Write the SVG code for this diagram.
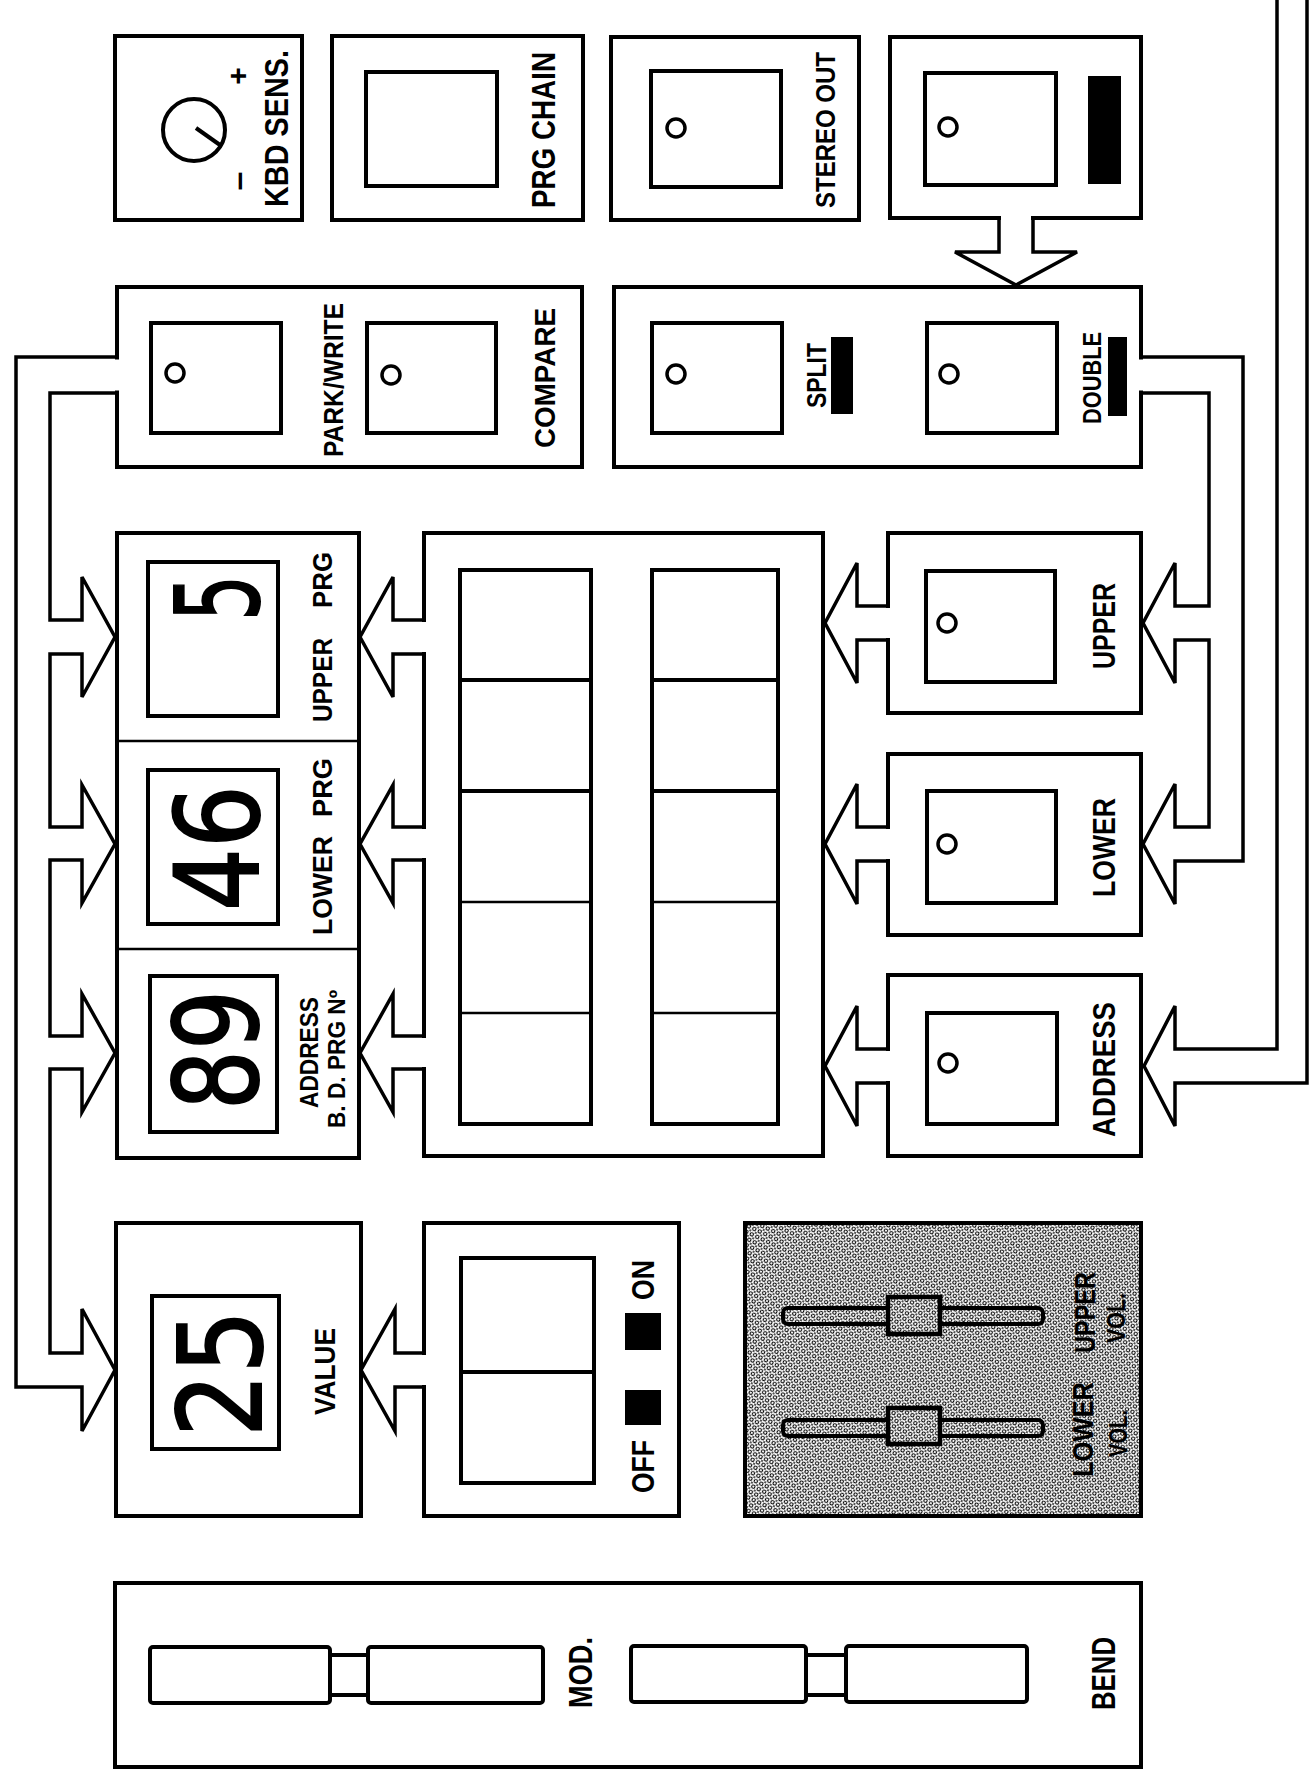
<svg xmlns="http://www.w3.org/2000/svg" width="1309" height="1773" viewBox="0 0 1309 1773">
<style>
.b{fill:#fff;stroke:#000;stroke-width:4}
.i{fill:none;stroke:#000;stroke-width:4}
.t{fill:none;stroke:#000;stroke-width:2.5}
.led{fill:none;stroke:#000;stroke-width:3.5}
.bar{fill:#000}
.lbl{font-family:"Liberation Sans",Arial,sans-serif;font-weight:bold;fill:#000;text-anchor:middle}
.dig{font-family:"DejaVu Sans","Liberation Sans",sans-serif;font-size:116px;fill:#000;stroke:#000;stroke-width:2;text-anchor:middle}
.al{fill:none;stroke:#000;stroke-width:3.5;stroke-linejoin:miter}
.gap{fill:#fff}
</style>
<defs>
<pattern id="dots" width="6" height="6" patternUnits="userSpaceOnUse" patternTransform="rotate(25)">
<rect width="6" height="6" fill="#fff"/>
<circle cx="3" cy="3" r="1.7" fill="none" stroke="#000" stroke-width="1.1"/>
<circle cx="0" cy="0" r="0.9" fill="#000"/>
<circle cx="6" cy="6" r="0.9" fill="#000"/>
<circle cx="0" cy="6" r="0.9" fill="#000"/>
<circle cx="6" cy="0" r="0.9" fill="#000"/>
</pattern>
</defs>
<rect width="1309" height="1773" fill="#fff"/>

<!-- nodes -->
<g id="kbd-sens">
<rect class="b" x="115" y="36" width="187" height="184"/>
<circle class="i" cx="194" cy="130" r="31"/>
<line x1="196" y1="128" x2="220" y2="145" stroke="#000" stroke-width="4"/>
<text class="lbl" font-size="30" transform="translate(248,76) rotate(-90)">+</text>
<text class="lbl" font-size="34" transform="translate(249,181) rotate(-90)">–</text>
<text class="lbl" font-size="34" transform="translate(288,128.5) rotate(-90)" textLength="157" lengthAdjust="spacingAndGlyphs">KBD SENS.</text>
</g>

<g id="prg-chain">
<rect class="b" x="332" y="36" width="251" height="184"/>
<rect class="i" x="366" y="72" width="131" height="114"/>
<text class="lbl" font-size="34" transform="translate(555,130) rotate(-90)" textLength="156" lengthAdjust="spacingAndGlyphs">PRG CHAIN</text>
</g>

<g id="stereo-out">
<rect class="b" x="611" y="37" width="248" height="183"/>
<rect class="i" x="651" y="71" width="130" height="116"/>
<circle class="led" cx="676" cy="128" r="9"/>
<text class="lbl" font-size="28" transform="translate(835,130) rotate(-90)" textLength="156" lengthAdjust="spacingAndGlyphs">STEREO OUT</text>
</g>

<g id="mode-switch">
<rect class="b" x="890" y="37" width="251" height="181"/>
<rect class="i" x="925" y="73" width="131" height="112"/>
<circle class="led" cx="948" cy="127" r="9"/>
<rect class="bar" x="1088" y="76" width="33" height="108"/>
</g>

<g id="park-compare">
<rect class="b" x="117" y="287" width="465" height="180"/>
<rect class="i" x="151" y="323" width="130" height="110"/>
<circle class="led" cx="175" cy="373" r="9"/>
<text class="lbl" font-size="28" transform="translate(343,380) rotate(-90)" textLength="154" lengthAdjust="spacingAndGlyphs">PARK/WRITE</text>
<rect class="i" x="367" y="323" width="129" height="110"/>
<circle class="led" cx="391" cy="375" r="9"/>
<text class="lbl" font-size="30" transform="translate(555,378) rotate(-90)" textLength="140" lengthAdjust="spacingAndGlyphs">COMPARE</text>
</g>

<g id="split-double">
<rect class="b" x="614" y="287" width="527" height="180"/>
<rect class="i" x="652" y="323" width="130" height="110"/>
<circle class="led" cx="676" cy="374" r="9"/>
<text class="lbl" font-size="28" transform="translate(826,375.5) rotate(-90)" textLength="65" lengthAdjust="spacingAndGlyphs">SPLIT</text>
<rect class="bar" x="831" y="337" width="22" height="77"/>
<rect class="i" x="927" y="323" width="130" height="110"/>
<circle class="led" cx="949" cy="374" r="9"/>
<text class="lbl" font-size="26" transform="translate(1101,378) rotate(-90)" textLength="92" lengthAdjust="spacingAndGlyphs">DOUBLE</text>
<rect class="bar" x="1108" y="337" width="19" height="79"/>
</g>

<g id="displays">
<rect class="b" x="117" y="533" width="242" height="625"/>
<line class="t" x1="117" y1="741" x2="359" y2="741"/>
<line class="t" x1="117" y1="949" x2="359" y2="949"/>
<rect class="i" x="148" y="562" width="130" height="154"/>
<text class="dig" transform="translate(258,598) rotate(-90)" textLength="46" lengthAdjust="spacingAndGlyphs">5</text>
<text class="lbl" font-size="28" transform="translate(332,680) rotate(-90)" textLength="84" lengthAdjust="spacingAndGlyphs">UPPER</text>
<text class="lbl" font-size="28" transform="translate(332,580) rotate(-90)" textLength="56" lengthAdjust="spacingAndGlyphs">PRG</text>
<rect class="i" x="148" y="770" width="130" height="154"/>
<text class="dig" transform="translate(258,848) rotate(-90)" textLength="126" lengthAdjust="spacingAndGlyphs">46</text>
<text class="lbl" font-size="28" transform="translate(332,885.5) rotate(-90)" textLength="99" lengthAdjust="spacingAndGlyphs">LOWER</text>
<text class="lbl" font-size="28" transform="translate(332,787.5) rotate(-90)" textLength="59" lengthAdjust="spacingAndGlyphs">PRG</text>
<rect class="i" x="150" y="976" width="127" height="156"/>
<text class="dig" transform="translate(257,1050) rotate(-90)" textLength="120" lengthAdjust="spacingAndGlyphs">89</text>
<text class="lbl" font-size="25" transform="translate(318,1052.5) rotate(-90)" textLength="111" lengthAdjust="spacingAndGlyphs">ADDRESS</text>
<text class="lbl" font-size="23" transform="translate(345,1059) rotate(-90)" textLength="138" lengthAdjust="spacingAndGlyphs">B. D. PRG Nº</text>
</g>

<g id="keypad">
<rect class="b" x="424" y="533" width="399" height="623"/>
<rect class="i" x="460" y="570" width="131" height="554"/>
<line class="i" x1="460" y1="680" x2="591" y2="680"/>
<line class="i" x1="460" y1="791" x2="591" y2="791"/>
<line class="t" x1="460" y1="902" x2="591" y2="902"/>
<line class="t" x1="460" y1="1013" x2="591" y2="1013"/>
<rect class="i" x="652" y="570" width="126" height="554"/>
<line class="i" x1="652" y1="680" x2="778" y2="680"/>
<line class="i" x1="652" y1="791" x2="778" y2="791"/>
<line class="t" x1="652" y1="902" x2="778" y2="902"/>
<line class="t" x1="652" y1="1013" x2="778" y2="1013"/>
</g>

<g id="upper-btn">
<rect class="b" x="888" y="533" width="253" height="180"/>
<rect class="i" x="926" y="571" width="129" height="111"/>
<circle class="led" cx="947" cy="623" r="9"/>
<text class="lbl" font-size="32" transform="translate(1115,626) rotate(-90)" textLength="86" lengthAdjust="spacingAndGlyphs">UPPER</text>
</g>

<g id="lower-btn">
<rect class="b" x="888" y="754" width="253" height="181"/>
<rect class="i" x="927" y="791" width="129" height="112"/>
<circle class="led" cx="947" cy="844" r="9"/>
<text class="lbl" font-size="32" transform="translate(1115,847.5) rotate(-90)" textLength="99" lengthAdjust="spacingAndGlyphs">LOWER</text>
</g>

<g id="address-btn">
<rect class="b" x="888" y="975" width="253" height="181"/>
<rect class="i" x="927" y="1013" width="130" height="111"/>
<circle class="led" cx="948" cy="1063" r="9"/>
<text class="lbl" font-size="32" transform="translate(1115,1069.5) rotate(-90)" textLength="135" lengthAdjust="spacingAndGlyphs">ADDRESS</text>
</g>

<g id="value">
<rect class="b" x="116" y="1223" width="245" height="293"/>
<rect class="i" x="152" y="1296" width="127" height="153"/>
<text class="dig" transform="translate(261,1373.5) rotate(-90)" textLength="127" lengthAdjust="spacingAndGlyphs">25</text>
<text class="lbl" font-size="30" transform="translate(335,1371.5) rotate(-90)" textLength="87" lengthAdjust="spacingAndGlyphs">VALUE</text>
</g>

<g id="off-on">
<rect class="b" x="424" y="1223" width="255" height="293"/>
<rect class="i" x="461" y="1258" width="133" height="225"/>
<line class="i" x1="461" y1="1372" x2="594" y2="1372"/>
<text class="lbl" font-size="32" transform="translate(654,1280) rotate(-90)" textLength="40" lengthAdjust="spacingAndGlyphs">ON</text>
<rect class="bar" x="625" y="1313" width="36" height="37"/>
<rect class="bar" x="625" y="1390" width="36" height="35"/>
<text class="lbl" font-size="32" transform="translate(654,1466.5) rotate(-90)" textLength="53" lengthAdjust="spacingAndGlyphs">OFF</text>
</g>

<g id="volumes">
<rect x="745" y="1223" width="396" height="293" fill="url(#dots)" stroke="#000" stroke-width="4"/>
<rect x="783" y="1308" width="260" height="16" rx="5" fill="url(#dots)" stroke="#000" stroke-width="4"/>
<rect x="888" y="1297" width="52" height="37" fill="url(#dots)" stroke="#000" stroke-width="4.5"/>
<rect x="783" y="1420" width="260" height="16" rx="5" fill="url(#dots)" stroke="#000" stroke-width="4"/>
<rect x="888" y="1408" width="52" height="36" fill="url(#dots)" stroke="#000" stroke-width="4.5"/>
<text class="lbl" font-size="30" transform="translate(1095,1312.5) rotate(-90)" textLength="81" lengthAdjust="spacingAndGlyphs">UPPER</text>
<text class="lbl" font-size="26" transform="translate(1125,1318) rotate(-90)" textLength="50" lengthAdjust="spacingAndGlyphs">VOL.</text>
<text class="lbl" font-size="30" transform="translate(1093,1429.5) rotate(-90)" textLength="95" lengthAdjust="spacingAndGlyphs">LOWER</text>
<text class="lbl" font-size="26" transform="translate(1127,1433.5) rotate(-90)" textLength="47" lengthAdjust="spacingAndGlyphs">VOL.</text>
</g>

<g id="mod-bend">
<rect class="b" x="115" y="1583" width="1026" height="184"/>
<rect class="i" x="330" y="1655" width="38" height="40"/>
<rect class="b" x="150" y="1647" width="180" height="56" rx="3"/>
<rect class="b" x="368" y="1647" width="175" height="56" rx="3"/>
<text class="lbl" font-size="33" transform="translate(592,1672.5) rotate(-90)" textLength="71" lengthAdjust="spacingAndGlyphs">MOD.</text>
<rect class="i" x="806" y="1655" width="40" height="40"/>
<rect class="b" x="631" y="1646" width="175" height="56" rx="3"/>
<rect class="b" x="846" y="1646" width="181" height="56" rx="3"/>
<text class="lbl" font-size="33" transform="translate(1115,1673.5) rotate(-90)" textLength="73" lengthAdjust="spacingAndGlyphs">BEND</text>
</g>

<!-- connectors -->
<g id="connectors">
<rect class="gap" x="113" y="359.5" width="8" height="31"/>
<polyline class="al" points="117,357 16,357 16,1387 82,1387 82,1431 115,1370 82,1309 82,1353 50,1353 50,1069 82,1069 82,1112 115,1053 82,994 82,1036 50,1036 50,860 82,860 82,903 115,844 82,785 82,827 50,827 50,654 82,654 82,697 115,637 82,577 82,620 50,620 50,393 117,393"/>

<rect class="gap" x="420" y="622" width="8" height="30"/>
<polyline class="al" points="424,620 393,620 393,577 360,637 393,697 393,654 424,654"/>
<rect class="gap" x="420" y="829" width="8" height="29"/>
<polyline class="al" points="424,827 393,827 393,785 360,844 393,903 393,860 424,860"/>
<rect class="gap" x="420" y="1038" width="8" height="29"/>
<polyline class="al" points="424,1036 393,1036 393,994 360,1053 393,1112 393,1069 424,1069"/>

<rect class="gap" x="884" y="608" width="8" height="30"/>
<polyline class="al" points="888,606 857,606 857,563 825,623 857,683 857,640 888,640"/>
<rect class="gap" x="884" y="829" width="8" height="30"/>
<polyline class="al" points="888,827 857,827 857,784 825,844 857,904 857,861 888,861"/>
<rect class="gap" x="884" y="1051" width="8" height="30"/>
<polyline class="al" points="888,1049 857,1049 857,1006 825,1066 857,1126 857,1083 888,1083"/>

<rect class="gap" x="1137" y="359.5" width="8" height="31"/>
<polyline class="al" points="1141,357 1243,357 1243,861 1175,861 1175,904 1143,844 1175,784 1175,827 1209,827 1209,640 1175,640 1175,683 1143,623 1175,563 1175,606 1209,606 1209,393 1141,393"/>

<polyline class="al" points="1277,-5 1277,1049 1175,1049 1175,1006 1144,1066 1175,1126 1175,1083 1307,1083 1307,-5"/>

<rect class="gap" x="1001" y="214" width="30" height="8"/>
<polyline class="al" points="999,218 999,252 955,252 1016,285 1077,252 1033,252 1033,218"/>

<rect class="gap" x="420" y="1355" width="8" height="30"/>
<polyline class="al" points="424,1353 395,1353 395,1309 361,1370 395,1431 395,1387 424,1387"/>
</g>
</svg>
